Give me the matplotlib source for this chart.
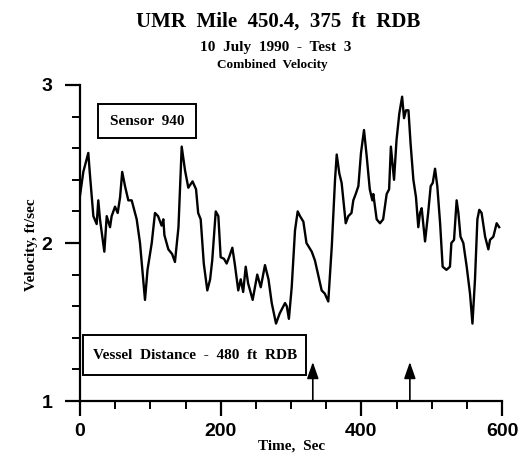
import matplotlib
matplotlib.use("Agg")
import matplotlib.pyplot as plt
from matplotlib.patches import Rectangle
from matplotlib.ticker import MultipleLocator

# Data
time_s = [0, 4.7, 11.8, 14, 19, 23.7, 26, 28.4, 34.6, 38, 42.7, 45, 49.8, 53.6, 57, 60, 64,
          68.7, 73.5, 80.6, 85.3, 92.4, 96, 102, 106.6, 111, 116, 118.5, 120, 125.6, 131,
          135, 140, 144.6, 149.3, 154, 160, 165, 168, 171.6, 176, 181, 185, 188, 193,
          196.7, 200, 204.7, 208.5, 212, 216.6, 220, 225, 228.5, 232, 235.6, 239, 245.5,
          252, 257, 263, 268, 272.6, 278.7, 284, 291.5, 294, 297, 301, 305.7, 309.5,
          312.8, 317.6, 322, 329.5, 334, 339, 343.6, 348, 353, 358, 362.6, 365, 368.7,
          372, 377.8, 381.5, 386, 388.6, 392, 395.8, 399.5, 403.8, 407.6, 412, 415.6,
          417, 421.8, 426.5, 431, 436, 439.5, 442, 446.5, 450, 454, 458, 460.7, 463.5,
          467, 470, 474, 477.7, 481, 483.4, 485.8, 490.6, 495, 498.6, 501.5, 504.8, 508,
          512, 515.6, 521, 526, 528, 531.8, 535.5, 538, 541, 545, 549.8, 554.5, 558,
          561.6, 565, 567.7, 571, 576, 580.6, 583, 587.7, 592.4, 596]
velocity = [2.30, 2.45, 2.57, 2.44, 2.17, 2.12, 2.27, 2.15, 1.945, 2.17, 2.10, 2.17, 2.23,
            2.19, 2.29, 2.45, 2.36, 2.27, 2.27, 2.15, 2.00, 1.64, 1.83, 2.00, 2.19, 2.17,
            2.11, 2.15, 2.05, 1.96, 1.93, 1.88, 2.10, 2.61, 2.46, 2.35, 2.39, 2.34, 2.19,
            2.15, 1.87, 1.70, 1.77, 1.89, 2.20, 2.17, 1.91, 1.90, 1.87, 1.91, 1.97, 1.87,
            1.70, 1.77, 1.69, 1.85, 1.745, 1.64, 1.80, 1.72, 1.86, 1.77, 1.62, 1.49, 1.555,
            1.62, 1.60, 1.52, 1.72, 2.08, 2.20, 2.17, 2.135, 2.00, 1.945, 1.89, 1.79, 1.70,
            1.68, 1.63, 1.98, 2.40, 2.56, 2.44, 2.38, 2.125, 2.17, 2.19, 2.27, 2.31, 2.36,
            2.57, 2.715, 2.55, 2.34, 2.27, 2.31, 2.15, 2.125, 2.15, 2.31, 2.34, 2.61, 2.40,
            2.65, 2.82, 2.926, 2.79, 2.84, 2.84, 2.63, 2.40, 2.29, 2.10, 2.19, 2.22, 2.01,
            2.19, 2.36, 2.38, 2.47, 2.36, 2.125, 1.85, 1.83, 1.85, 2.00, 2.02, 2.27, 2.19,
            2.04, 2.00, 1.85, 1.68, 1.49, 1.77, 2.15, 2.21, 2.19, 2.04, 1.96, 2.02, 2.04,
            2.125, 2.10]
vessel_pass_times = [331, 469]
x_ticks = [0, 200, 400, 600]
y_ticks = [1, 2, 3]

serif = ["Liberation Serif", "DejaVu Serif"]
sans = ["Liberation Sans", "DejaVu Sans"]

fig = plt.figure(figsize=(5.27, 4.61), dpi=100)
ax = fig.add_axes([80 / 527, 1 - 401 / 461, 422 / 527, 316 / 461])

ax.plot(time_s, velocity, color="black", lw=1.7, solid_joinstyle="round")

ax.set_xlim(0, 600)
ax.set_ylim(1, 3)
ax.set_xticks(x_ticks)
ax.set_yticks(y_ticks)
ax.xaxis.set_minor_locator(MultipleLocator(50))
ax.yaxis.set_minor_locator(MultipleLocator(0.2))
for s in ["top", "right"]:
    ax.spines[s].set_visible(False)
for s in ["left", "bottom"]:
    ax.spines[s].set_linewidth(1.6)
ax.tick_params(which="major", direction="out", length=11, width=1.6, pad=9)
ax.tick_params(which="minor", direction="out", length=6, width=1.4)
ax.tick_params(axis="x", which="major", pad=5)
for lab in ax.get_xticklabels() + ax.get_yticklabels():
    lab.set_family(sans)
    lab.set_fontsize(14)
    lab.set_fontweight("bold")

# Annotation boxes
ax.add_patch(Rectangle((25.6, 2.665), 139.4, 0.215, fill=False, lw=1.4,
                       edgecolor="black", clip_on=False))
ax.text(95, 2.772, "Sensor  940", ha="center", va="center", family=serif,
        fontsize=11, fontweight="bold")
ax.add_patch(Rectangle((4.3, 1.165), 317.7, 0.253, fill=False, lw=1.4,
                       edgecolor="black", clip_on=False))
ax.text(164, 1.29, "Vessel  Distance  -  480  ft  RDB", ha="center", va="center",
        family=serif, fontsize=11, fontweight="bold")

for t in vessel_pass_times:
    ax.annotate("", xy=(t, 1.247), xytext=(t, 1.0),
                arrowprops=dict(arrowstyle="-|>,head_length=1.0,head_width=0.35",
                                color="black", lw=1.2, shrinkA=0, shrinkB=0))

# Titles and axis labels
fig.text(278 / 527, 1 - 22 / 461, "UMR  Mile  450.4,  375  ft  RDB", ha="center", va="center",
         family=serif, fontsize=15, fontweight="bold")
fig.text(276 / 527, 1 - 47 / 461, "10  July  1990  -  Test  3", ha="center", va="center",
         family=serif, fontsize=11, fontweight="bold")
fig.text(272 / 527, 1 - 65 / 461, "Combined  Velocity", ha="center", va="center",
         family=serif, fontsize=9.5, fontweight="bold")
fig.text(32 / 527, 1 - 245 / 461, "Velocity, ft/sec", ha="center", va="center",
         rotation=90, family=serif, fontsize=11, fontweight="bold")
fig.text(292 / 527, 1 - 446 / 461, "Time,  Sec", ha="center", va="center",
         family=serif, fontsize=11, fontweight="bold")

fig.savefig("out.png", dpi=100)
